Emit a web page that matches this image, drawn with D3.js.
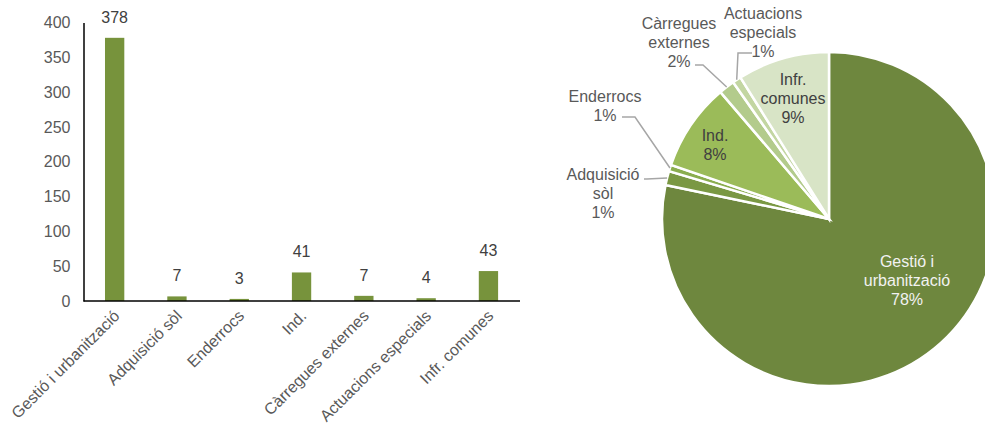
<!DOCTYPE html>
<html>
<head>
<meta charset="utf-8">
<script src="https://cdn.jsdelivr.net/npm/d3@7"></script>
<style>
  html, body { margin: 0; padding: 0; background: #fff; }
  svg { display: block; font-family: "Liberation Sans", Arial, sans-serif; }
</style>
</head>
<body>
<svg id="chart" width="985" height="430"></svg>
<script>
// Imports by category
const categories = [
  "Gestió i urbanització",
  "Adquisició sòl",
  "Enderrocs",
  "Ind.",
  "Càrregues externes",
  "Actuacions especials",
  "Infr. comunes"
];
const values = [378, 6.6, 3, 41, 7.4, 4, 43];
const yTicks = [0, 50, 100, 150, 200, 250, 300, 350, 400];

// Pie label text lines (category name split over lines)
const pieLabelLines = [
  ["Gestió i", "urbanització"],
  ["Adquisició", "sòl"],
  ["Enderrocs"],
  ["Ind."],
  ["Càrregues", "externes"],
  ["Actuacions", "especials"],
  ["Infr.", "comunes"]
];

const pieColors = ["#6e873e", "#7a9843", "#8aad4e", "#9bbb59", "#b3cb8c", "#c3d6a2", "#d8e4c6"];

const svg = d3.select("#chart");
const textGray = "#595959";
const fontFamily = "Liberation Sans, Arial, sans-serif";

// ---------- Bar chart ----------
const bar = { left: 83.5, right: 520, top: 22.5, bottom: 301 };

const x = d3.scaleBand()
  .domain(categories)
  .range([bar.left, bar.left + 7 * 62.3])
  .paddingInner(0.69)
  .paddingOuter(0.345);

const y = d3.scaleLinear().domain([0, 400]).range([bar.bottom, bar.top]);

const gBar = svg.append("g");

gBar.selectAll("rect.bar")
  .data(values)
  .join("rect")
  .attr("class", "bar")
  .attr("x", (d, i) => x(categories[i]))
  .attr("width", x.bandwidth())
  .attr("y", d => y(d))
  .attr("height", d => y(0) - y(d))
  .attr("fill", "#77933c");

gBar.selectAll("text.val")
  .data(values)
  .join("text")
  .attr("class", "val")
  .attr("x", (d, i) => x(categories[i]) + x.bandwidth() / 2)
  .attr("y", d => y(d) - 15)
  .attr("text-anchor", "middle")
  .attr("font-size", 16)
  .attr("fill", "#404040")
  .text(d => d3.format(".0f")(d));

// y axis
const yAxis = d3.axisLeft(y).tickValues(yTicks).tickSize(0).tickPadding(13);
const gy = gBar.append("g").attr("transform", `translate(${bar.left},0)`).call(yAxis);
gy.select(".domain").attr("stroke", "#000").attr("stroke-width", 1.5);
gy.selectAll("text").attr("font-size", 16).attr("fill", textGray)
  .attr("font-family", fontFamily);

// x axis
const xAxis = d3.axisBottom(x).tickSize(0).tickSizeOuter(0).tickPadding(0);
const gx = gBar.append("g").attr("transform", `translate(0,${bar.bottom})`).call(xAxis);
gx.select(".domain").remove();
gBar.append("line")
  .attr("x1", bar.left).attr("x2", bar.right)
  .attr("y1", bar.bottom).attr("y2", bar.bottom)
  .attr("stroke", "#000").attr("stroke-width", 1.5);
gx.selectAll("text")
  .attr("font-size", 16)
  .attr("fill", textGray)
  .attr("font-family", fontFamily)
  .attr("text-anchor", "end")
  .attr("dy", "0.35em")
  .attr("transform", "translate(2,12) rotate(-45)");

// ---------- Pie chart ----------
const cx = 829, cy = 219, r = 167;
const total = d3.sum(values);
const pct = d3.format(".0%");

const pie = d3.pie().sort(null).value(d => d)(values);
const arc = d3.arc().innerRadius(0).outerRadius(r);

const gPie = svg.append("g").attr("transform", `translate(${cx},${cy})`);

gPie.selectAll("path")
  .data(pie)
  .join("path")
  .attr("d", arc)
  .attr("fill", (d, i) => pieColors[i])
  .attr("stroke", "#fff")
  .attr("stroke-width", 2.5)
  .attr("stroke-linejoin", "miter");

// Label placement: text centre (x) and first-line centre (y), relative to pie centre.
// Outside labels carry a leader: elbow and end of the line near the text.
const labelLayout = [
  { x: 78, y: 42, inside: true, color: "#f2f2f2" },
  { x: -226, y: -45, leader: [[-182, -40], [-185, -40]] },
  { x: -224, y: -123, leader: [[-194, -102], [-207, -102]] },
  { x: -114, y: -84, inside: true, color: "#404040" },
  { x: -150, y: -196, leader: [[-126, -154], [-134, -154]] },
  { x: -66, y: -206, leader: [[-91, -166], [-77, -166]] },
  { x: -36, y: -140, inside: true, color: "#404040" }
];
const lineH = 19;

pie.forEach((d, i) => {
  const L = labelLayout[i];
  const lines = pieLabelLines[i].concat([pct(d.data / total)]);
  if (L.leader) {
    const mid = (d.startAngle + d.endAngle) / 2;
    const p0 = [r * Math.sin(mid), -r * Math.cos(mid)];
    gPie.append("polyline")
      .attr("points", [p0].concat(L.leader).map(p => p.join(",")).join(" "))
      .attr("fill", "none")
      .attr("stroke", "#a6a6a6")
      .attr("stroke-width", 1.5);
  }
  const t = gPie.append("text")
    .attr("text-anchor", "middle")
    .attr("font-size", 16)
    .attr("fill", L.color || textGray);
  lines.forEach((s, k) => {
    t.append("tspan")
      .attr("x", L.x)
      .attr("y", L.y + k * lineH)
      .attr("dy", "0.35em")
      .text(s);
  });
});
</script>
</body>
</html>
